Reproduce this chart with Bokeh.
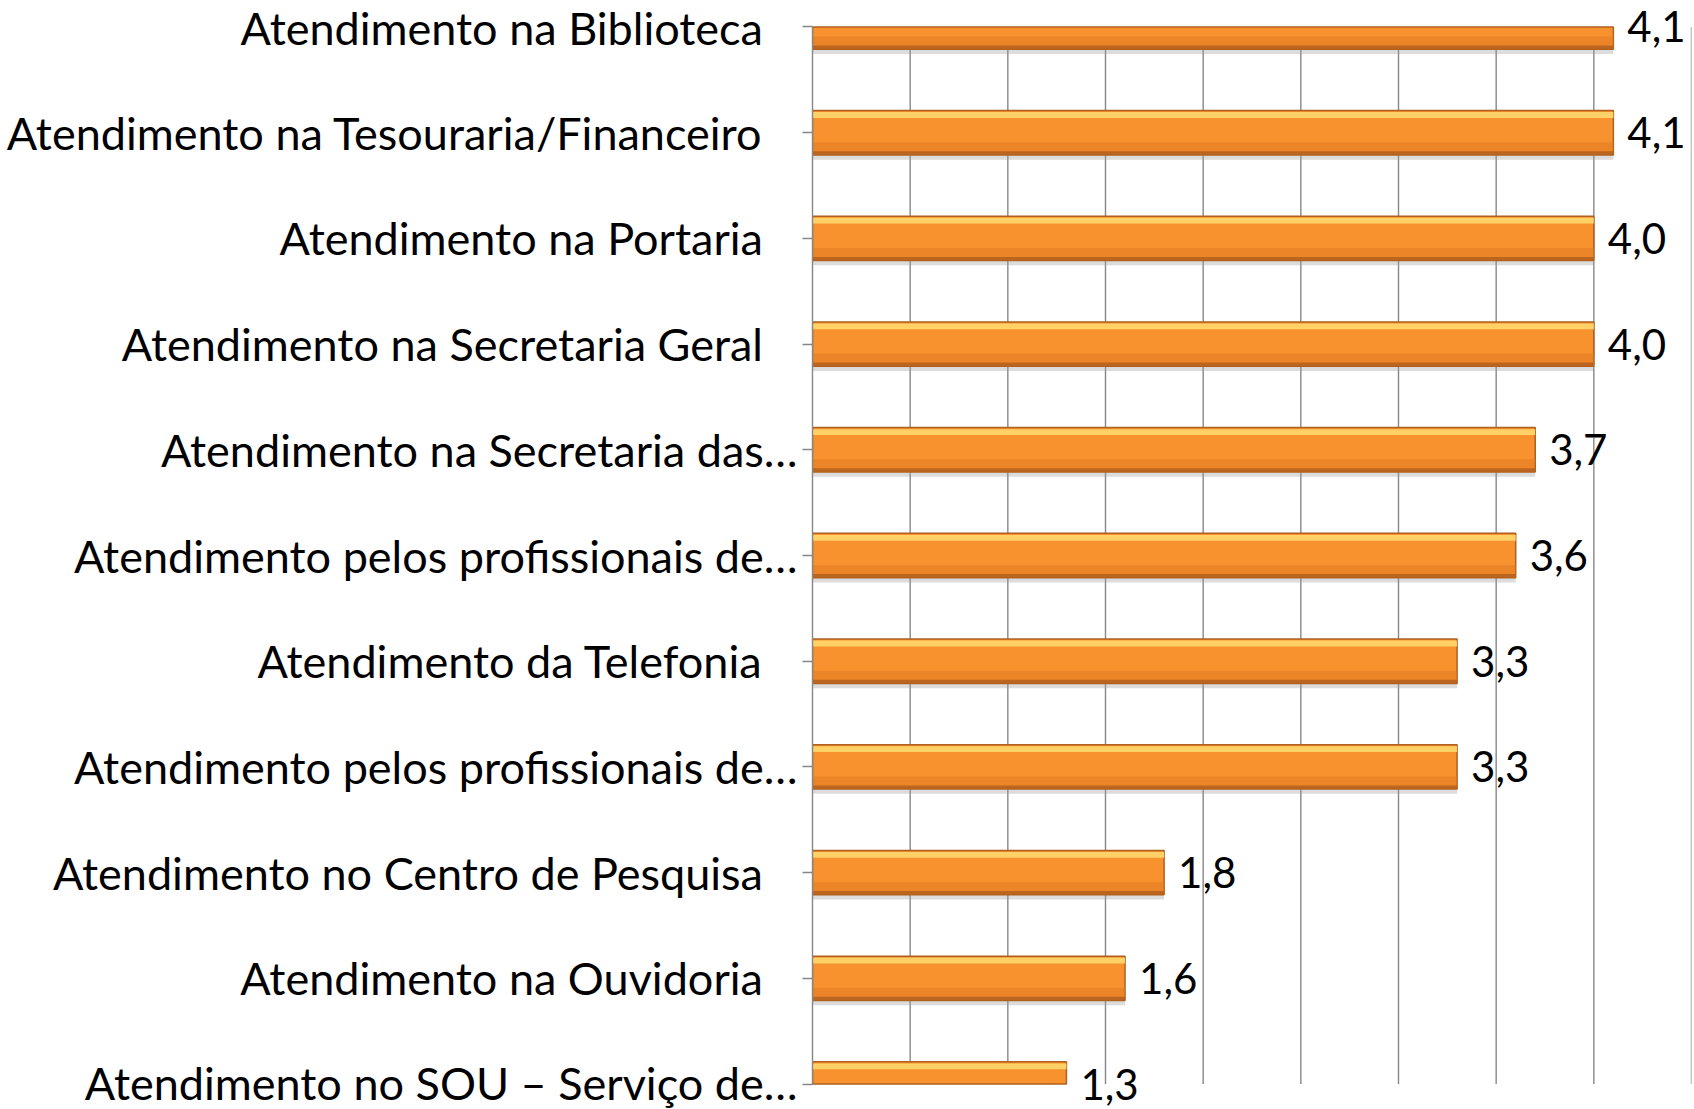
from bokeh.plotting import figure
from bokeh.models import Range1d, FixedTicker, LabelSet, ColumnDataSource
from bokeh.core.properties import value
from bokeh.embed import file_html
from bokeh.resources import INLINE

categories = [
    "Atendimento na Biblioteca",
    "Atendimento na Tesouraria/Financeiro",
    "Atendimento na Portaria",
    "Atendimento na Secretaria Geral",
    "Atendimento na Secretaria das…",
    "Atendimento pelos profissionais de…",
    "Atendimento da Telefonia",
    "Atendimento pelos profissionais de…",
    "Atendimento no Centro de Pesquisa",
    "Atendimento na Ouvidoria",
    "Atendimento no SOU – Serviço de…",
]
values = [4.1, 4.1, 4.0, 4.0, 3.7, 3.6, 3.3, 3.3, 1.8, 1.6, 1.3]
value_labels = ["4,1", "4,1", "4,0", "4,0", "3,7", "3,6", "3,3", "3,3", "1,8", "1,6", "1,3"]
x_ticks = [0.5, 1.0, 1.5, 2.0, 2.5, 3.0, 3.5, 4.0, 4.5]

FONT = "Lato"
FSIZE = "45px"
VSIZE = "42px"
NB = "\u00a0"
GRID = "#878787"

n = len(categories)
pos = list(range(n))
lo, hi = 0, n - 1          # axis extent: centres of first and last category
half = 0.21                 # half bar thickness


def clip(v):
    return min(max(v, lo), hi)


def band(a, b):
    # a, b offsets from bar centre (negative = towards top)
    return ([clip(p_ + a) for p_ in pos], [clip(p_ + b) for p_ in pos])


src = ColumnDataSource(dict(y=pos, x=values, lab=value_labels))
for key, (a, b) in {
    "body": (-half, half),
    "hl": (-half + 0.015, -half + 0.07),
    "dk": (half - 0.12, half - 0.01),
    "edge": (half - 0.035, half),
    "sh": (half, half + 0.045),
}.items():
    t, bt = band(a, b)
    src.data[key + "_t"] = t
    src.data[key + "_b"] = bt

p = figure(width=1693, height=1109, output_backend="svg", toolbar_location=None,
           x_range=Range1d(0, 4.5), y_range=Range1d(hi + 0.241, lo - 0.2507),
           min_border_left=812, min_border_top=0, min_border_right=2, min_border_bottom=0)
p.outline_line_color = None
p.background_fill_color = "white"
p.xaxis.visible = False
p.xgrid.grid_line_color = None
p.ygrid.grid_line_color = None

# vertical gridlines limited to the category extent
p.segment(x0=x_ticks, x1=x_ticks, y0=[lo] * len(x_ticks), y1=[hi] * len(x_ticks),
          line_color=GRID, line_width=1.4)

# shadow
p.quad(left=0, right="x", top="sh_t", bottom="sh_b", source=src,
       fill_color="#9a9a9a", fill_alpha=0.35, line_color=None)
# bars with bevel-like shading
p.quad(left=0, right="x", top="body_t", bottom="body_b", source=src,
       fill_color="#F8922E", line_color="#B0601F", line_width=1.5)
p.quad(left=0, right="x", top="hl_t", bottom="hl_b", source=src,
       fill_color="#FFD86E", fill_alpha=0.9, line_color=None)
p.quad(left=0, right="x", top="dk_t", bottom="dk_b", source=src,
       fill_color="#E07A22", fill_alpha=0.55, line_color=None)
p.quad(left=0, right="x", top="edge_t", bottom="edge_b", source=src,
       fill_color="#B6621E", fill_alpha=0.9, line_color=None)

labels = LabelSet(x="x", y="y", text="lab", source=src, x_offset=14,
                  text_baseline="middle", text_align="left",
                  text_font=value(FONT), text_font_size=VSIZE, text_color="black")
p.add_layout(labels)

ax = p.yaxis[0]
ax.ticker = FixedTicker(ticks=pos)
ax.bounds = (lo, hi)
overrides = {}
for i, c in enumerate(categories):
    overrides[i] = c if c.endswith("…") else c + NB * 3
ax.major_label_overrides = overrides
ax.axis_line_color = GRID
ax.axis_line_width = 1.4
ax.major_tick_line_color = GRID
ax.major_tick_line_width = 1.4
ax.major_tick_out = 10
ax.major_tick_in = 0
ax.minor_tick_line_color = None
ax.major_label_standoff = 5
ax.major_label_text_font = FONT
ax.major_label_text_font_size = FSIZE
ax.major_label_text_color = "black"

open("out.html", "w").write(file_html(p, INLINE))
